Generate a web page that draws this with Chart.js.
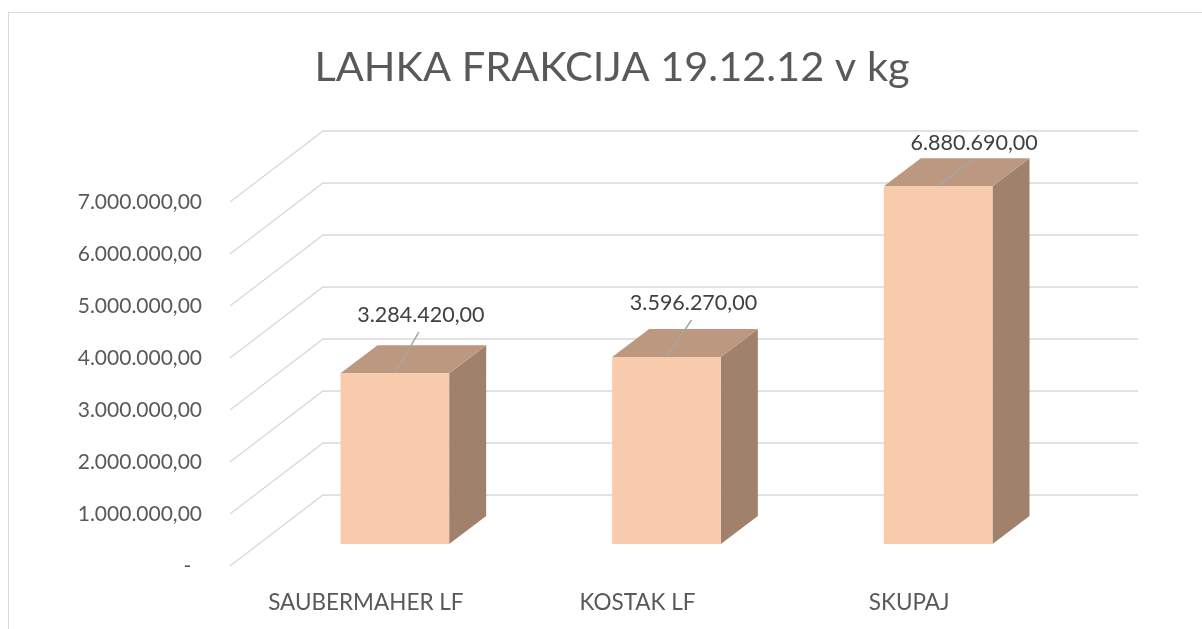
<!DOCTYPE html>
<html lang="sl">
<head>
  <meta charset="UTF-8" />
  <title>Lahka frakcija</title>
  <script src="https://cdn.jsdelivr.net/npm/chart.js"></script>
  <style>
    html, body {
      margin: 0;
      padding: 0;
      background: #fff;
      overflow: hidden;
    }
    .okvir {
      position: absolute;
      left: 8px;
      top: 12px;
      width: 1400px;
      height: 800px;
      border: 1.5px solid #d9d9d9;
    }
    #graf {
      position: absolute;
      left: 0;
      top: 0;
    }
  </style>
</head>
<body>
<div class="okvir"></div>
<canvas id="graf" width="1202" height="629"></canvas>
<script>
  const kategorije = ['SAUBERMAHER LF', 'KOSTAK LF', 'SKUPAJ'];
  const kolicine = [3284420, 3596270, 6880690];
  const naslov = 'LAHKA FRAKCIJA 19.12.12 v kg';

  const sivaBesedilo = '#595959';
  const pisava = 'Lato, "Open Sans", sans-serif';

  // 1.234.567,00 oblika, nič kot pomišljaj
  function oblikuj(v) {
    const [cel, dec] = v.toFixed(2).split('.');
    return cel.replace(/\B(?=(\d{3})+(?!\d))/g, '.') + ',' + dec;
  }

  // globina 3D prikaza
  const globina = { dx: 93, dy: -71 };
  const stolpec = { odmikX: 29, odmikY: -22, dx: 37, dy: -28 };

  const mreza3D = {
    id: 'mreza3D',
    beforeDatasetsDraw(chart) {
      const { ctx, chartArea, scales } = chart;
      ctx.save();
      ctx.strokeStyle = '#d9d9d9';
      ctx.lineWidth = 1.3;
      scales.y.ticks.forEach(t => {
        const y = scales.y.getPixelForValue(t.value);
        ctx.beginPath();
        ctx.moveTo(chartArea.left, y);
        ctx.lineTo(chartArea.left + globina.dx, y + globina.dy);
        ctx.lineTo(chartArea.right + globina.dx, y + globina.dy);
        ctx.stroke();
      });
      ctx.restore();
    }
  };

  const stolpci3D = {
    id: 'stolpci3D',
    afterDatasetsDraw(chart) {
      const { ctx } = chart;
      ctx.save();
      chart.getDatasetMeta(0).data.forEach(el => {
        const p = el.getProps(['x', 'y', 'base', 'width'], true);
        const L = p.x - p.width / 2 + stolpec.odmikX;
        const R = p.x + p.width / 2 + stolpec.odmikX;
        const T = p.y + stolpec.odmikY;
        const B = p.base + stolpec.odmikY;
        const dx = stolpec.dx, dy = stolpec.dy;

        // stranska ploskev
        ctx.fillStyle = '#a0826c';
        ctx.beginPath();
        ctx.moveTo(R, T);
        ctx.lineTo(R + dx, T + dy);
        ctx.lineTo(R + dx, B + dy);
        ctx.lineTo(R, B);
        ctx.closePath();
        ctx.fill();

        // zgornja ploskev
        ctx.fillStyle = '#bd9880';
        ctx.beginPath();
        ctx.moveTo(L, T);
        ctx.lineTo(R, T);
        ctx.lineTo(R + dx, T + dy);
        ctx.lineTo(L + dx, T + dy);
        ctx.closePath();
        ctx.fill();

        // sprednja ploskev
        ctx.fillStyle = '#f8cbad';
        ctx.fillRect(L, T, R - L, B - T);
      });
      ctx.restore();
    }
  };

  // ročno premaknjene oznake podatkov (kot v Excelu)
  const odmikiOznak = [[26, -58], [27, -54], [36, -43]];

  const oznake = {
    id: 'oznake',
    afterDraw(chart) {
      const { ctx } = chart;
      ctx.save();
      chart.getDatasetMeta(0).data.forEach((el, i) => {
        const p = el.getProps(['x', 'y'], true);
        const bx = p.x + stolpec.odmikX;
        const by = p.y + stolpec.odmikY;
        const cx = bx + odmikiOznak[i][0];
        const cy = by + odmikiOznak[i][1];

        ctx.strokeStyle = '#a6a6a6';
        ctx.lineWidth = 1.5;
        ctx.beginPath();
        ctx.moveTo(cx - 2, cy + 17);
        ctx.lineTo(bx, by);
        ctx.stroke();

        ctx.font = '21.5px ' + pisava;
        ctx.fillStyle = '#404040';
        ctx.textAlign = 'center';
        ctx.textBaseline = 'middle';
        ctx.fillText(oblikuj(kolicine[i]), cx, cy);
      });

      ctx.font = '41.5px ' + pisava;
      ctx.fillStyle = sivaBesedilo;
      ctx.textAlign = 'center';
      ctx.textBaseline = 'middle';
      ctx.fillText(naslov, 612, 68);
      ctx.restore();
    }
  };

  new Chart(document.getElementById('graf').getContext('2d'), {
    type: 'bar',
    data: {
      labels: kategorije,
      datasets: [{
        data: kolicine,
        backgroundColor: 'rgba(0,0,0,0)',
        borderWidth: 0,
        categoryPercentage: 1,
        barPercentage: 0.4
      }]
    },
    options: {
      responsive: false,
      animation: false,
      layout: { padding: { top: 202, right: 157, bottom: 0, left: 0 } },
      plugins: {
        legend: { display: false },
        tooltip: { enabled: false }
      },
      scales: {
        x: {
          grid: { display: false, drawTicks: false },
          border: { display: false },
          ticks: {
            padding: 23,
            color: sivaBesedilo,
            font: { family: pisava, size: 22.5 }
          },
          afterFit(scale) { scale.height = 63; }
        },
        y: {
          min: 0,
          max: 7000000,
          grid: { display: false, drawTicks: false },
          border: { display: false },
          ticks: {
            stepSize: 1000000,
            padding: 28,
            color: sivaBesedilo,
            font: { family: pisava, size: 21 },
            callback: v => v === 0 ? '-  ' : oblikuj(v)
          },
          afterFit(scale) { scale.width = 230; }
        }
      }
    },
    plugins: [mreza3D, stolpci3D, oznake]
  });
</script>
</body>
</html>
